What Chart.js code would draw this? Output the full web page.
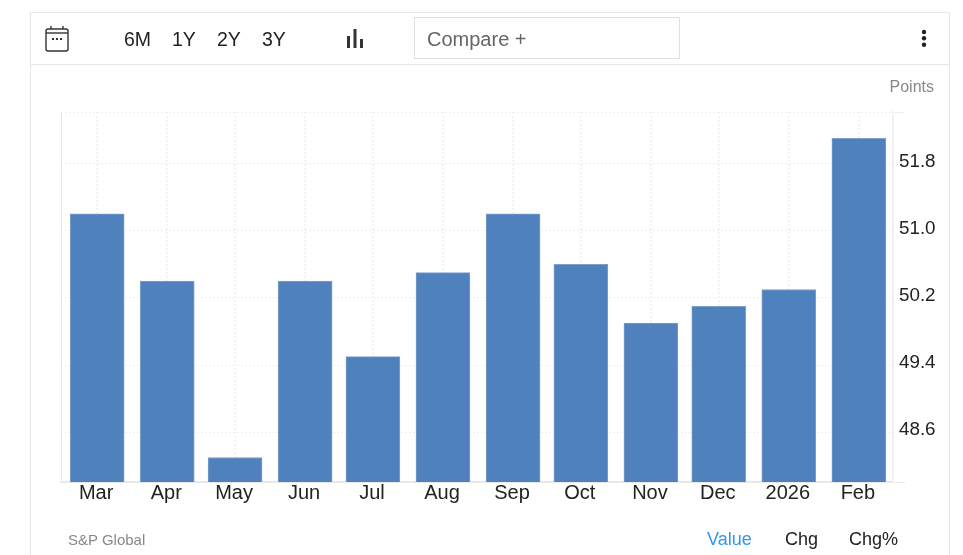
<!DOCTYPE html>
<html>
<head>
<meta charset="utf-8">
<script src="https://cdn.jsdelivr.net/npm/chart.js@4"></script>
<style>
    html, body { margin: 0; padding: 0; background: #fff; overflow: hidden; }
    body { width: 963px; height: 555px; position: relative; font-family: "Liberation Sans", Arial, sans-serif; }
    #frame { position: absolute; left: 30px; top: 12px; width: 918px; height: 560px; border: 1px solid #e6e6e6; }
    #toolbarLine { position: absolute; left: 31px; top: 64px; width: 918px; height: 1px; background: #e6e6e6; }
    #chart { position: absolute; left: 0; top: 0; }
    .txt { position: absolute; white-space: nowrap; line-height: 22px; }
    .range { font-size: 19.5px; color: #222; top: 28px; }
    #compare { position: absolute; left: 414px; top: 17px; width: 264px; height: 40px; border: 1px solid #e0e0dc; font-size: 20px; color: #666; line-height: 42px; text-indent: 12px; }
    svg { position: absolute; }
</style>
</head>
<body>
<div id="frame"></div>
<div id="toolbarLine"></div>
<canvas id="chart" width="963" height="555"></canvas>

<svg style="left:44px;top:25px" width="26" height="28" viewBox="0 0 26 28" fill="none" stroke="#333" stroke-width="1.4">
    <rect x="2" y="4" width="22" height="22" rx="2"/>
    <line x1="2" y1="8" x2="24" y2="8"/>
    <line x1="7" y1="1" x2="7" y2="4"/>
    <line x1="19" y1="1" x2="19" y2="4"/>
    <line x1="8" y1="14" x2="10" y2="14" stroke-width="2"/>
    <line x1="12" y1="14" x2="14" y2="14" stroke-width="2"/>
    <line x1="16" y1="14" x2="18" y2="14" stroke-width="2"/>
</svg>
<div class="txt range" style="left:124px">6M</div>
<div class="txt range" style="left:172px">1Y</div>
<div class="txt range" style="left:217px">2Y</div>
<div class="txt range" style="left:262px">3Y</div>
<svg style="left:345px;top:28px" width="20" height="20" fill="#333">
    <rect x="2" y="8" width="3" height="12"/>
    <rect x="8.5" y="1" width="3" height="19"/>
    <rect x="15" y="11" width="3" height="9"/>
</svg>
<div id="compare">Compare +</div>
<svg style="left:919px;top:29px" width="10" height="20" fill="#222">
    <circle cx="5" cy="3" r="2.2"/>
    <circle cx="5" cy="9.3" r="2.2"/>
    <circle cx="5" cy="15.7" r="2.2"/>
</svg>
<div class="txt" style="right:29px;top:76px;font-size:16px;color:#888">Points</div>
<div class="txt" style="left:68px;top:529px;font-size:15px;color:#888">S&amp;P Global</div>
<div class="txt" style="left:707px;top:528px;font-size:18px;color:#2f96f3">Value</div>
<div class="txt" style="left:785px;top:528px;font-size:18px;color:#222">Chg</div>
<div class="txt" style="left:849px;top:528px;font-size:18px;color:#222">Chg%</div>

<script>
const categories = ['Mar', 'Apr', 'May', 'Jun', 'Jul', 'Aug', 'Sep', 'Oct', 'Nov', 'Dec', '2026', 'Feb'];
// days since the first bar, the source axis is a date axis so the months are not evenly spaced
const dayOffsets = [0, 31, 61, 92, 122, 153, 184, 214, 245, 275, 306, 337];
const pmiValues = [51.2, 50.4, 48.3, 50.4, 49.5, 50.5, 51.2, 50.6, 49.9, 50.1, 50.3, 52.1];
const yTicks = [48.6, 49.4, 50.2, 51.0, 51.8];
const yMin = 48.008;
const yMax = 52.413;
const xMin = -16;
const xMax = 352.1;

const gridColor = '#efefef';
const axisColor = '#e8e8e8';

// left edge of the plot, the library only gives us the right one
const leftEdge = {
    id: 'leftEdge',
    afterDraw(chart) {
        const { ctx, chartArea } = chart;
        ctx.save();
        ctx.strokeStyle = axisColor;
        ctx.beginPath();
        ctx.moveTo(chartArea.left + 0.5, chartArea.top);
        ctx.lineTo(chartArea.left + 0.5, chartArea.bottom);
        ctx.stroke();
        ctx.restore();
    }
};

new Chart(document.getElementById('chart').getContext('2d'), {
    type: 'bar',
    data: {
        datasets: [{
            data: dayOffsets.map((d, i) => ({ x: d, y: pmiValues[i] })),
            backgroundColor: '#4f81bd',
            borderColor: '#7ba0cf',
            borderWidth: 1,
            borderSkipped: 'bottom',
            barThickness: 54
        }]
    },
    plugins: [leftEdge],
    options: {
        responsive: false,
        animation: false,
        layout: { padding: { left: 61, top: 112, right: 0, bottom: 0 } },
        plugins: { legend: { display: false }, tooltip: { enabled: false } },
        scales: {
            x: {
                type: 'linear',
                min: xMin,
                max: xMax,
                offset: false,
                afterBuildTicks(scale) {
                    scale.ticks = dayOffsets.map(d => ({ value: d }));
                },
                grid: { color: '#f3f3f3', lineWidth: 2, drawTicks: false, offset: false },
                border: { color: axisColor, width: 2, dash: [2, 2] },
                ticks: {
                    color: '#222',
                    font: { family: 'Liberation Sans', size: 20 },
                    padding: -1,
                    labelOffset: -1,
                    maxRotation: 0,
                    autoSkip: false,
                    callback: (v, i) => categories[i]
                },
                afterFit(scale) { scale.height = 73; }
            },
            y: {
                position: 'right',
                min: yMin,
                max: yMax,
                afterBuildTicks(scale) {
                    scale.ticks = [yMin, ...yTicks, yMax].map(v => ({ value: v }));
                },
                grid: {
                    color: gridColor,
                    tickLength: 12,
                    tickColor: c => (c.tick.value === yMin ? axisColor : (c.tick.value === yMax ? gridColor : 'transparent'))
                },
                border: { color: '#f0f0f0', width: 2, dash: [2, 2] },
                ticks: {
                    color: '#222',
                    font: { family: 'Liberation Sans', size: 18.8 },
                    padding: -6,
                    labelOffset: -2,
                    callback: v => (yTicks.includes(v) ? v.toFixed(1) : '')
                },
                afterFit(scale) { scale.width = 70; }
            }
        }
    }
});
</script>
</body>
</html>
